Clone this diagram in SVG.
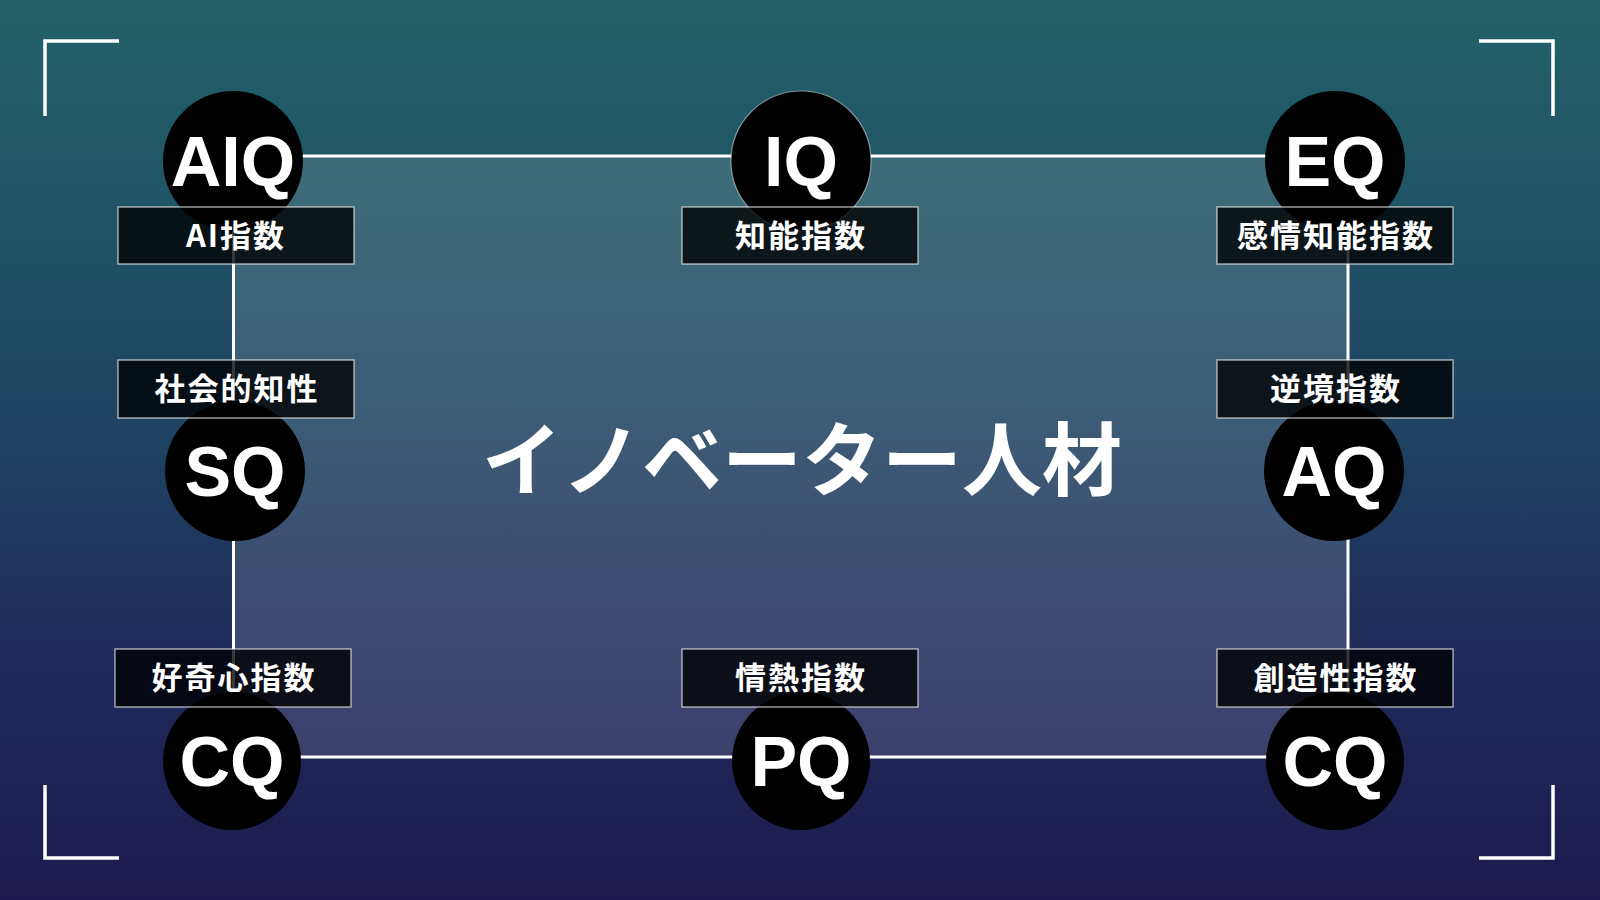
<svg xmlns="http://www.w3.org/2000/svg" width="1600" height="900" viewBox="0 0 1600 900">
<defs>
<linearGradient id="bg" x1="0" y1="0" x2="0" y2="1">
<stop offset="0" stop-color="#226269"/>
<stop offset="0.45" stop-color="#1f4562"/>
<stop offset="0.75" stop-color="#1f2a5a"/>
<stop offset="1" stop-color="#1e1a4d"/>
</linearGradient>
<style>
.corner{fill:none;stroke:#ffffff;stroke-width:3.5}
.frame{fill:#ffffff;fill-opacity:0.13;stroke:#ffffff;stroke-width:3}
.disc{fill:#000000}
.disc-ring{fill:#000000;stroke:#ffffff;stroke-opacity:0.45;stroke-width:1.2}
.code{font-family:"Liberation Sans",Arial,sans-serif;font-weight:700;font-size:70px;fill:#ffffff;text-anchor:middle}
.tag{fill:#000000;fill-opacity:0.78;stroke:#ffffff;stroke-opacity:0.6;stroke-width:1.5}
.tagtxt{font-family:"Noto Sans CJK JP","Noto Sans",sans-serif;font-weight:700;font-size:31px;letter-spacing:2px;fill:#ffffff;text-anchor:middle}
.title{font-family:"Noto Sans CJK JP","Noto Sans",sans-serif;font-weight:700;font-size:80px;fill:#ffffff;text-anchor:middle}
</style>
</defs>
<rect x="0" y="0" width="1600" height="900" fill="url(#bg)"/>
<g id="corners">
<path class="corner" d="M45 116 V41 H119"/>
<path class="corner" d="M1479 41 H1553 V116"/>
<path class="corner" d="M45 785 V858 H119"/>
<path class="corner" d="M1479 858 H1553 V785"/>
</g>
<g id="connectors">
<rect class="frame" x="233.5" y="156" width="1114.5" height="601"/>
</g>
<text id="title" class="title" x="802" y="489">イノベーター人材</text>
<g id="node-aiq">
<circle class="disc" cx="233" cy="161" r="70"/>
<text class="code" x="233" y="186">AIQ</text>
<rect class="tag" x="118" y="207" width="236" height="57"/>
<text class="tagtxt" x="236" y="247">AI指数</text>
</g>
<g id="node-iq">
<circle class="disc-ring" cx="801" cy="161" r="70"/>
<text class="code" x="801" y="186">IQ</text>
<rect class="tag" x="682" y="207" width="236" height="57"/>
<text class="tagtxt" x="801" y="247">知能指数</text>
</g>
<g id="node-eq">
<circle class="disc" cx="1335" cy="161" r="70"/>
<text class="code" x="1335" y="186">EQ</text>
<rect class="tag" x="1217" y="207" width="236" height="57"/>
<text class="tagtxt" x="1336" y="247">感情知能指数</text>
</g>
<g id="node-sq">
<circle class="disc" cx="235" cy="471" r="70"/>
<text class="code" x="235" y="496">SQ</text>
<rect class="tag" x="118" y="360" width="236" height="58"/>
<text class="tagtxt" x="237" y="400">社会的知性</text>
</g>
<g id="node-aq">
<circle class="disc" cx="1334" cy="471" r="70"/>
<text class="code" x="1334" y="496">AQ</text>
<rect class="tag" x="1217" y="360" width="236" height="58"/>
<text class="tagtxt" x="1336" y="400">逆境指数</text>
</g>
<g id="node-cq-left">
<circle class="disc" cx="232" cy="761" r="69"/>
<text class="code" x="232" y="786">CQ</text>
<rect class="tag" x="115" y="649" width="236" height="58"/>
<text class="tagtxt" x="234" y="689">好奇心指数</text>
</g>
<g id="node-pq">
<circle class="disc" cx="801" cy="761" r="69"/>
<text class="code" x="801" y="786">PQ</text>
<rect class="tag" x="682" y="649" width="236" height="58"/>
<text class="tagtxt" x="801" y="689">情熱指数</text>
</g>
<g id="node-cq-right">
<circle class="disc" cx="1335" cy="761" r="69"/>
<text class="code" x="1335" y="786">CQ</text>
<rect class="tag" x="1217" y="649" width="236" height="58"/>
<text class="tagtxt" x="1336" y="689">創造性指数</text>
</g>
</svg>
